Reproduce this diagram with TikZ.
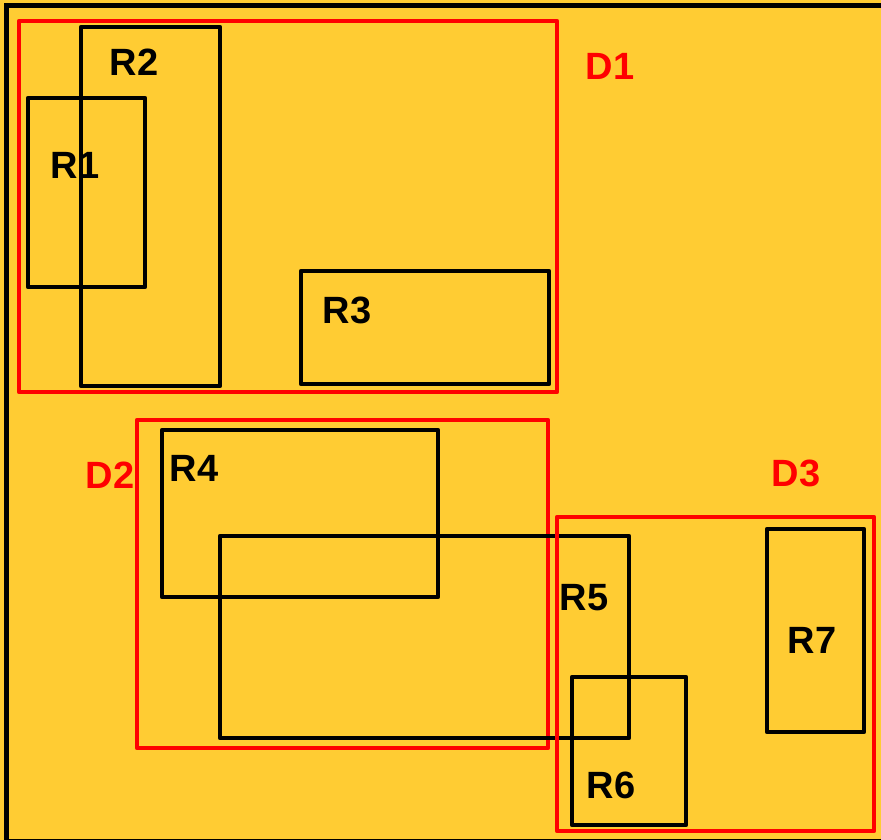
\documentclass[tikz,border=0pt]{standalone}
\usepackage{fontspec}
\setmainfont{Liberation Sans}
\usetikzlibrary{calc}

\definecolor{panelyellow}{RGB}{255,204,51}

\begin{document}
\begin{tikzpicture}[x=1pt, y=-1pt,
    rect/.style={draw=black, line width=4.4pt, line join=round},
    dbox/.style={draw=red, line width=4.4pt, line join=round},
    rlabel/.style={black, inner sep=0pt, font=\fontsize{38}{40}\selectfont\bfseries},
    dlabel/.style={red, inner sep=0pt, font=\fontsize{38}{40}\selectfont\bfseries}]
% --- BACKGROUND AND FRAME ---
\fill[panelyellow] (0,0) rectangle (881,840);
\useasboundingbox (0,0) rectangle (881,840);
\begin{scope}
    \clip (0,0) rectangle (881,840);
    \draw[black, line width=5pt] (6,6) rectangle (890,841);
\end{scope}

% --- GROUP D1 ---
\draw[dbox] (19,21) rectangle (557,392);
\draw[rect] (81,27) rectangle (220,386);
\draw[rect] (28,98) rectangle (145,287);
\draw[rect] (301,271) rectangle (549,384);
\node[rlabel] (r2) at (134,62) {R2};
\node[rlabel] (r1) at (75,165) {R1};
\node[rlabel] (r3) at (347,310) {R3};
\node[dlabel] (d1) at (610,66) {D1};

% --- GROUP D2 ---
\draw[dbox] (137,420) rectangle (548,748);
\draw[rect] (162,430) rectangle (438,597);
\draw[rect] (220,536) rectangle (629,738);
\node[rlabel] (r4) at (194,468) {R4};
\node[rlabel] (r5) at (584,598) {R5};
\node[dlabel] (d2) at (110,475) {D2};

% --- GROUP D3 ---
\draw[dbox] (557,517) rectangle (874,831);
\draw[rect] (572,677) rectangle (686,825);
\draw[rect] (767,529) rectangle (864,732);
\node[rlabel] (r6) at (611,785) {R6};
\node[rlabel] (r7) at (812,640) {R7};
\node[dlabel] (d3) at (796,473) {D3};
\end{tikzpicture}
\end{document}
